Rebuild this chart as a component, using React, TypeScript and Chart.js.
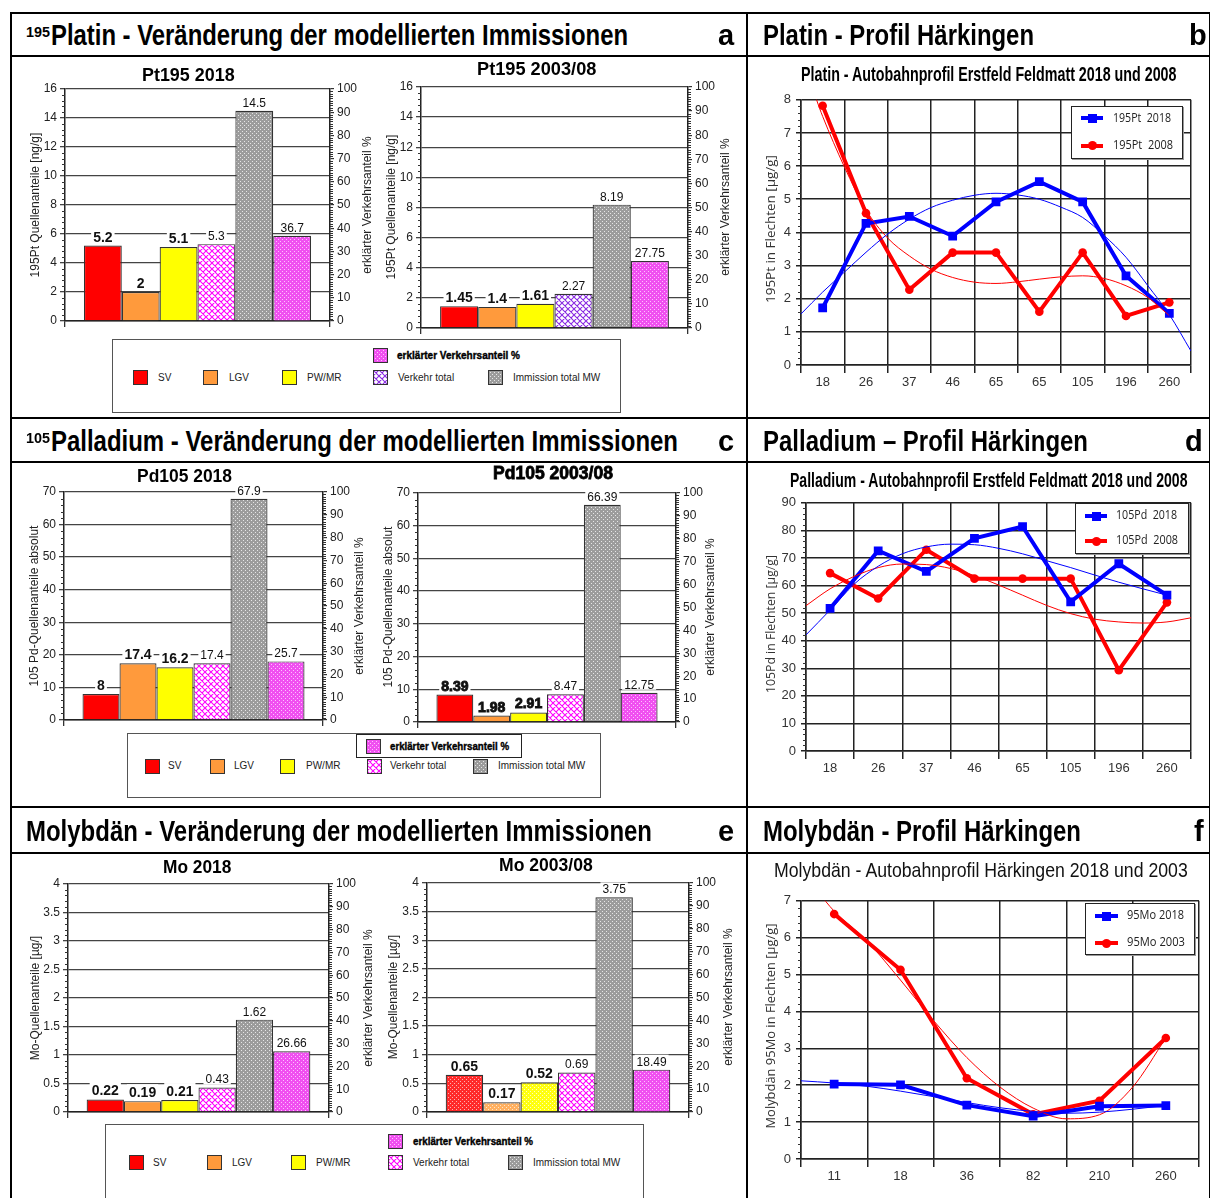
import React, { useEffect, useRef } from 'react';
import { Chart, registerables } from 'chart.js';
Chart.register(...registerables);

// ---------------- data ----------------
const barSeriesNames = ['SV', 'LGV', 'PW/MR', 'Verkehr total', 'Immission total MW', 'erklärter Verkehrsanteil %'];

const pt2018Values = [5.2, 2, 5.1, 5.3, 14.5];
const pt2018Share = 36.7;
const pt0308Values = [1.45, 1.4, 1.61, 2.27, 8.19];
const pt0308Share = 27.75;
const pd2018Values = [8, 17.4, 16.2, 17.4, 67.9];
const pd2018Share = 25.7;
const pd0308Values = [8.39, 1.98, 2.91, 8.47, 66.39];
const pd0308Share = 12.75;
const mo2018Values = [0.22, 0.19, 0.21, 0.43, 1.62];
const mo2018Share = 26.66;
const mo0308Values = [0.65, 0.17, 0.52, 0.69, 3.75];
const mo0308Share = 18.49;

const ptProfileLabels = ['18', '26', '37', '46', '65', '65', '105', '196', '260'];
const pt2018Profile = [1.72, 4.27, 4.48, 3.89, 4.92, 5.53, 4.92, 2.69, 1.56];
const pt2008Profile = [7.82, 4.58, 2.27, 3.39, 3.39, 1.61, 3.39, 1.48, 1.89];
const pt2018Trend = [[0, 1.54], [0.5, 2.2], [1, 2.8], [1.5, 3.4], [2, 3.95], [2.5, 4.4], [3, 4.75], [3.5, 4.97], [4, 5.12], [4.5, 5.18], [5, 5.13], [5.5, 5.0], [6, 4.76], [6.5, 4.45], [7, 3.9], [7.5, 3.25], [8, 2.4], [8.5, 1.52], [9, 0.42]];
const pt2008Trend = [[0.2, 8.7], [0.36, 8.0], [0.5, 7.5], [1, 5.98], [1.5, 4.68], [2, 3.83], [2.5, 3.29], [3, 2.89], [3.5, 2.64], [4, 2.5], [4.5, 2.46], [5, 2.51], [5.5, 2.59], [6, 2.66], [6.5, 2.69], [7, 2.61], [7.5, 2.39], [8, 2.04], [8.5, 1.49]];

const pdProfileLabels = ['18', '26', '37', '46', '65', '105', '196', '260'];
const pd2018Profile = [51.7, 72.6, 65.1, 77.1, 81.4, 54.1, 67.9, 56.5];
const pd2008Profile = [64.5, 55.3, 73.0, 62.5, 62.5, 62.5, 29.3, 53.9];
const pd2018Trend = [[0, 42.1], [0.5, 51.1], [1, 60.5], [1.5, 67], [2, 71.5], [2.5, 74], [3, 75], [3.5, 74.8], [4, 73.5], [4.5, 71.5], [5, 69], [5.5, 66.5], [6, 63.8], [6.5, 61.2], [7, 58.8], [7.5, 56.5]];
const pd2008Trend = [[0, 52.7], [0.5, 58.8], [1, 63.3], [1.5, 66.5], [2, 67.8], [2.5, 67.6], [3, 66.2], [3.5, 63.6], [4, 60.2], [4.5, 56.5], [5, 52.8], [5.5, 49.8], [6, 47.8], [6.5, 46.8], [7, 46.4], [7.5, 46.8], [8, 48.3]];

const moProfileLabels = ['11', '18', '36', '82', '210', '260'];
const mo2018Profile = [2.03, 2.01, 1.46, 1.16, 1.43, 1.45];
const mo2003Profile = [6.64, 5.13, 2.19, 1.21, 1.58, 3.28];
const mo2018Trend = [[0, 2.12], [0.5, 2.06], [1, 1.97], [1.5, 1.84], [2, 1.69], [2.5, 1.53], [3, 1.39], [3.5, 1.29], [4, 1.24], [4.5, 1.27], [5, 1.35], [5.5, 1.45]];
const mo2003Trend = [[0.25, 7.25], [0.5, 6.72], [1, 5.9], [1.5, 4.85], [2, 3.75], [2.5, 2.75], [3, 1.95], [3.5, 1.38], [4, 1.09], [4.5, 1.2], [5, 1.95], [5.5, 3.28]];

// ---------------- helpers ----------------
const SANS = '"Liberation Sans", Arial, sans-serif';
const NARROW = '"Liberation Sans Narrow", "Liberation Sans", Arial, sans-serif';
const HUMAN = '"Open Sans", "Noto Sans", sans-serif';

let measureCtx: any = null;
function textWidth(text: string, font: string) {
  if (!measureCtx) measureCtx = document.createElement('canvas').getContext('2d');
  measureCtx.font = font;
  return measureCtx.measureText(text).width;
}

function FitText(p: any) {
  const weight = p.weight ?? 'normal';
  const font = `${weight} ${p.size}px ${p.family}`;
  const w = textWidth(p.text, font);
  const k = p.width ? p.width / w : 1;
  const asc = p.asc ?? 0.8465;
  const color = p.color ?? '#000';
  return (
    <div style={{ position: 'absolute', left: p.x, top: p.base - asc * p.size, font, lineHeight: p.size + 'px', whiteSpace: 'pre', color, transform: `scaleX(${k})`, transformOrigin: '0 0', WebkitTextStroke: p.stroke ? `${p.stroke}px ${color}` : undefined }}>{p.text}</div>
  );
}

function VText(p: any) {
  const font = `${p.weight ?? 'normal'} ${p.size}px ${p.family}`;
  const w = textWidth(p.text, font);
  const k = p.length ? p.length / w : 1;
  return (
    <div style={{ position: 'absolute', left: p.cx, top: p.cy, width: 0, height: 0 }}>
      <div style={{ position: 'absolute', left: 0, top: 0, font, lineHeight: p.size + 'px', whiteSpace: 'pre', color: p.color ?? '#222', transform: `translate(-50%,-50%) rotate(-90deg) scaleX(${k})` }}>{p.text}</div>
    </div>
  );
}

function makeFill(ctx: any, key: string): any {
  const solid: any = { sv: '#ff0000', lgv: '#ff9a3c', pw: '#ffff00' };
  if (solid[key]) return solid[key];
  const t = document.createElement('canvas');
  const g: any = t.getContext('2d');
  const dots = (n: number, bg: string, dot: string) => {
    t.width = n; t.height = n;
    g.fillStyle = bg; g.fillRect(0, 0, n, n);
    g.fillStyle = dot; g.fillRect(0, 0, 1, 1); g.fillRect(n / 2, n / 2, 1, 1);
  };
  if (key === 'vtMag' || key === 'vtVio') {
    t.width = 6; t.height = 6;
    g.fillStyle = '#fff'; g.fillRect(0, 0, 6, 6);
    g.strokeStyle = key === 'vtMag' ? '#ff00ff' : '#8a2be2';
    g.lineWidth = 1.1;
    g.beginPath();
    for (const k of [-6, 0, 6]) {
      g.moveTo(k - 1, -1); g.lineTo(k + 7, 7);
      g.moveTo(k - 1, 7); g.lineTo(k + 7, -1);
    }
    g.stroke();
  } else if (key === 'imm') dots(4, '#9c9c9c', '#e6e6e6');
  else if (key === 'pct') dots(4, '#f050f0', '#ffc0ff');
  else if (key === 'svDot') dots(4, '#ff2a2a', '#ffb0b0');
  else if (key === 'lgvDot') dots(4, '#ffb060', '#ffe4c8');
  else if (key === 'pwDot') dots(4, '#ffff10', '#ffffc0');
  return ctx.createPattern(t, 'repeat');
}

const minorTicksPlugin = (subs: any) => ({
  id: 'minorTicks',
  afterDraw(chart: any) {
    const ctx = chart.ctx;
    ctx.save();
    ctx.strokeStyle = '#333';
    ctx.lineWidth = 1;
    for (const id of Object.keys(subs)) {
      const s = chart.scales[id];
      if (!s) continue;
      const step = s.options.ticks.stepSize / subs[id];
      const n = Math.round((s.max - s.min) / step);
      const left = s.position === 'left';
      const x0 = left ? s.right : s.left;
      ctx.beginPath();
      for (let k = 0; k <= n; k++) {
        if (k % subs[id] === 0) continue;
        const y = Math.round(s.getPixelForValue(s.min + k * step)) + 0.5;
        ctx.moveTo(x0, y);
        ctx.lineTo(x0 + (left ? -3 : 3), y);
      }
      ctx.stroke();
    }
    ctx.restore();
  },
});

const valueLabelPlugin = (texts: string[], heavy: boolean) => ({
  id: 'valueLabels',
  afterDatasetsDraw(chart: any) {
    const ctx = chart.ctx;
    ctx.save();
    chart.data.datasets.forEach((_ds: any, i: number) => {
      const el = chart.getDatasetMeta(i).data[0];
      const bold = i < 3;
      ctx.font = bold ? `bold 14px ${SANS}` : `12px ${SANS}`;
      const t = texts[i];
      const w = ctx.measureText(t).width;
      const h = bold ? 11 : 9;
      const yb = el.y - 4;
      ctx.fillStyle = '#fff';
      ctx.fillRect(el.x - w / 2 - 2, yb - h - 2, w + 4, h + 3);
      ctx.fillStyle = '#111';
      ctx.textAlign = 'center';
      ctx.textBaseline = 'alphabetic';
      ctx.fillText(t, el.x, yb);
      if (heavy && bold) {
        ctx.lineWidth = 0.9;
        ctx.strokeStyle = '#111';
        ctx.strokeText(t, el.x, yb);
      }
    });
    ctx.restore();
  },
});

const plainNumber = (v: any) => String(+Number(v).toFixed(3));

function BarChart({ cfg }: any) {
  const ref = useRef<HTMLCanvasElement>(null);
  const PL = 45, PR = 45, PT = 12, PB = 14;
  const L = Math.round(cfg.L), T = Math.round(cfg.T);
  const W = Math.round(cfg.R - cfg.L) + PL + PR;
  const H = Math.round(cfg.B - cfg.T) + PT + PB;
  useEffect(() => {
    const canvas = ref.current as HTMLCanvasElement;
    const ctx = canvas.getContext('2d');
    const texts = [...cfg.values.map(String), String(cfg.share)];
    const datasets = barSeriesNames.map((name, i) => ({
      label: name,
      data: [i < 5 ? cfg.values[i] : cfg.share],
      yAxisID: i < 5 ? 'y' : 'y1',
      backgroundColor: makeFill(ctx, cfg.fills[i]),
      borderColor: '#333',
      borderWidth: 1.2,
      barPercentage: 1,
      categoryPercentage: 6 / 7,
    }));
    const tickFont = { family: SANS, size: 12 };
    const chart = new Chart(canvas, {
      type: 'bar',
      data: { labels: [''], datasets },
      options: {
        animation: false,
        responsive: false,
        layout: { padding: { top: PT, left: 0, right: 0, bottom: 0 } },
        plugins: { legend: { display: false }, title: { display: false }, tooltip: { enabled: false } },
        scales: {
          x: {
            type: 'category', offset: true,
            grid: { offset: true, drawOnChartArea: false, color: '#333', lineWidth: 1.3, tickLength: 6 },
            border: { color: '#222', width: 1.5 },
            ticks: { display: false },
            afterFit: (s: any) => { s.height = PB; },
          },
          y: {
            position: 'left', min: 0, max: cfg.yMax,
            ticks: { stepSize: cfg.yStep, font: tickFont, color: '#222', padding: 3, callback: plainNumber },
            grid: { color: '#444', lineWidth: 1.3, tickLength: 5 },
            border: { color: '#222', width: 1.5 },
            afterFit: (s: any) => { s.width = PL; },
          },
          y1: {
            position: 'right', min: 0, max: 100,
            ticks: { stepSize: 10, font: tickFont, color: '#222', padding: 3, callback: plainNumber },
            grid: { drawOnChartArea: false, color: '#333', lineWidth: 1.2, tickLength: 4 },
            border: { color: '#222', width: 1.5 },
            afterFit: (s: any) => { s.width = PR; },
          },
        },
      } as any,
      plugins: [minorTicksPlugin({ y: 5, y1: 10 }), valueLabelPlugin(texts, !!cfg.heavy)],
    });
    return () => chart.destroy();
  }, []);
  return <canvas ref={ref} width={W} height={H} style={{ position: 'absolute', left: L - PL, top: T - PT, width: W, height: H }} />;
}

function LineChart({ cfg }: any) {
  const ref = useRef<HTMLCanvasElement>(null);
  const PL = 45, PR = 10, PT = 10, PB = 30;
  const L = Math.round(cfg.L), T = Math.round(cfg.T);
  const W = Math.round(cfg.R - cfg.L) + PL + PR;
  const H = Math.round(cfg.B - cfg.T) + PT + PB;
  useEffect(() => {
    const canvas = ref.current as HTMLCanvasElement;
    const n = cfg.labels.length;
    const trend = (pts: number[][], color: string) => ({
      type: 'line', xAxisID: 'xt', data: pts.map(([x, y]) => ({ x, y })),
      borderColor: color, borderWidth: 1, pointRadius: 0, cubicInterpolationMode: 'monotone', order: 0,
    });
    const chart = new Chart(canvas, {
      type: 'line',
      data: {
        labels: cfg.labels,
        datasets: [
          trend(cfg.trendA, '#0000ff'),
          trend(cfg.trendB, '#ff0000'),
          { data: cfg.a, xAxisID: 'x', borderColor: '#0000ff', backgroundColor: '#0000ff', borderWidth: 4, pointStyle: 'rect', pointRadius: 6.2, pointBorderWidth: 0, tension: 0, order: 1 },
          { data: cfg.b, xAxisID: 'x', borderColor: '#ff0000', backgroundColor: '#ff0000', borderWidth: 4, pointStyle: 'circle', pointRadius: 4.3, pointBorderWidth: 0, tension: 0, order: 1 },
        ],
      },
      options: {
        animation: false,
        responsive: false,
        layout: { padding: { top: PT, left: 0, right: PR, bottom: 0 } },
        plugins: { legend: { display: false }, title: { display: false }, tooltip: { enabled: false } },
        scales: {
          x: {
            type: 'category', offset: true,
            grid: { offset: true, color: '#222', lineWidth: 1.5, tickLength: 8 },
            border: { color: '#222', width: 1.5 },
            ticks: { font: { family: NARROW, size: 13 }, color: '#333', padding: 2, maxRotation: 0, autoSkip: false },
            afterFit: (s: any) => { s.height = PB; },
          },
          xt: { type: 'linear', min: 0, max: n, display: false },
          y: {
            position: 'left', min: 0, max: cfg.yMax,
            ticks: { stepSize: cfg.yStep, font: { family: NARROW, size: 13 }, color: '#333', padding: 5 },
            grid: { color: '#222', lineWidth: 1.5, tickLength: 5 },
            border: { color: '#222', width: 1.5 },
            afterFit: (s: any) => { s.width = PL; },
          },
        },
      } as any,
      plugins: [minorTicksPlugin({ y: 5 })],
    });
    return () => chart.destroy();
  }, []);
  return <canvas ref={ref} width={W} height={H} style={{ position: 'absolute', left: L - PL, top: T - PT, width: W, height: H }} />;
}

function Swatch({ x, y, fill }: any) {
  const ref = useRef<HTMLCanvasElement>(null);
  useEffect(() => {
    const c = ref.current as HTMLCanvasElement;
    const g: any = c.getContext('2d');
    g.fillStyle = makeFill(g, fill);
    g.fillRect(0, 0, 15, 15);
    g.strokeStyle = '#333';
    g.lineWidth = 1;
    g.strokeRect(0.5, 0.5, 14, 14);
  }, []);
  return <canvas ref={ref} width={15} height={15} style={{ position: 'absolute', left: x, top: Math.round(y - 7.5) }} />;
}

function BarLegend({ box, inner, items }: any) {
  return (
    <>
      <div style={{ position: 'absolute', left: box[0], top: box[1], width: box[2] - box[0], height: box[3] - box[1], border: '1px solid #555', boxSizing: 'border-box', background: '#fff' }} />
      {inner && <div style={{ position: 'absolute', left: inner[0], top: inner[1], width: inner[2] - inner[0], height: inner[3] - inner[1], border: '1px solid #222', boxSizing: 'border-box', background: '#fff' }} />}
      {items.map((it: any, i: number) => (
        <React.Fragment key={i}>
          <Swatch x={it.sx} y={it.sy} fill={it.fill} />
          {it.bold
            ? <FitText text={it.text} x={it.tx} base={it.sy + 4} size={11} family={NARROW} weight="bold" width={it.tw} stroke={0.4} />
            : <FitText text={it.text} x={it.tx} base={it.sy + 3.5} size={10} family={SANS} color="#222" />}
        </React.Fragment>
      ))}
    </>
  );
}

function LineLegend({ box, line, textX, items }: any) {
  return (
    <>
      <div style={{ position: 'absolute', left: box[0], top: box[1], width: box[2] - box[0], height: box[3] - box[1], border: '1.5px solid #222', boxShadow: '1px 1px 0 #999', boxSizing: 'border-box', background: '#fff' }} />
      {items.map((it: any, i: number) => {
        const s = 9;
        return (
          <React.Fragment key={i}>
            <div style={{ position: 'absolute', left: line[0], top: it.y - 2, width: line[1] - line[0], height: 4, background: it.color }} />
            <div style={{ position: 'absolute', left: (line[0] + line[1]) / 2 - s / 2, top: it.y - s / 2, width: s, height: s, background: it.color, borderRadius: it.circle ? '50%' : 0 }} />
            <FitText text={it.text} x={textX} base={it.y + 4} size={12} family={HUMAN} asc={0.888} color="#222" width={it.tw} />
          </React.Fragment>
        );
      })}
    </>
  );
}

const legendFillsRow1 = ['sv', 'lgv', 'pw', 'vtVio', 'imm', 'pct'];
const legendFillsOther = ['sv', 'lgv', 'pw', 'vtMag', 'imm', 'pct'];

function legendItems(fills: string[], xs: number[][], rowY: number, topY: number, pctTw: number) {
  return barSeriesNames.map((name, i) => ({
    fill: fills[i], sx: xs[i][0], tx: xs[i][1], sy: i === 5 ? topY : rowY, text: name, bold: i === 5, tw: i === 5 ? pctTw : undefined,
  }));
}

export default function App() {
  const hLines = [13, 56, 418, 462, 807, 853];
  const vLines = [11, 747, 1210];
  return (
    <div style={{ position: 'absolute', left: 0, top: 0, width: 1210, height: 1198, overflow: 'hidden', background: '#fff', fontFamily: SANS }}>
      {/* bar charts */}
      <BarChart cfg={{ values: pt2018Values, share: pt2018Share, yMax: 16, yStep: 2, fills: legendFillsOther, L: 65, R: 329.5, T: 89, B: 321 }} />
      <BarChart cfg={{ values: pt0308Values, share: pt0308Share, yMax: 16, yStep: 2, fills: legendFillsRow1, L: 421, R: 688.3, T: 87, B: 328 }} />
      <BarChart cfg={{ values: pd2018Values, share: pd2018Share, yMax: 70, yStep: 10, fills: legendFillsOther, L: 64.3, R: 323.3, T: 492, B: 720 }} />
      <BarChart cfg={{ values: pd0308Values, share: pd0308Share, yMax: 70, yStep: 10, fills: legendFillsOther, L: 418.3, R: 676.7, T: 493, B: 722, heavy: true }} />
      <BarChart cfg={{ values: mo2018Values, share: mo2018Share, yMax: 4, yStep: 0.5, fills: legendFillsOther, L: 67.7, R: 328.3, T: 884, B: 1112 }} />
      <BarChart cfg={{ values: mo0308Values, share: mo0308Share, yMax: 4, yStep: 0.5, fills: ['svDot', 'lgvDot', 'pwDot', 'vtMag', 'imm', 'pct'], L: 427.3, R: 689, T: 883, B: 1112 }} />

      {/* line charts */}
      <LineChart cfg={{ labels: ptProfileLabels, a: pt2018Profile, b: pt2008Profile, trendA: pt2018Trend, trendB: pt2008Trend, yMax: 8, yStep: 1, L: 801, R: 1191, T: 97, B: 365 }} />
      <LineChart cfg={{ labels: pdProfileLabels, a: pd2018Profile, b: pd2008Profile, trendA: pd2018Trend, trendB: pd2008Trend, yMax: 90, yStep: 10, L: 806, R: 1191, T: 500, B: 751 }} />
      <LineChart cfg={{ labels: moProfileLabels, a: mo2018Profile, b: mo2003Profile, trendA: mo2018Trend, trendB: mo2003Trend, yMax: 7, yStep: 1, L: 801, R: 1199, T: 898, B: 1159 }} />

      {/* bar chart titles */}
      <FitText text="Pt195 2018" x={141.7} base={81} size={18} family={SANS} weight="bold" width={92.6} />
      <FitText text="Pt195 2003/08" x={477.3} base={75.7} size={18} family={SANS} weight="bold" width={119.4} />
      <FitText text="Pd105 2018" x={137.3} base={482.3} size={18} family={SANS} weight="bold" width={95} />
      <FitText text="Pd105 2003/08" x={492.7} base={479.3} size={18} family={SANS} weight="bold" width={120} stroke={0.8} />
      <FitText text="Mo 2018" x={163.3} base={873.3} size={18} family={SANS} weight="bold" width={68.3} />
      <FitText text="Mo 2003/08" x={499} base={871.7} size={18} family={SANS} weight="bold" width={93.7} />

      {/* bar chart axis titles */}
      <VText text="195Pt Quellenanteile [ng/g]" cx={35} cy={205} size={12} family={SANS} />
      <VText text="erklärter Verkehrsanteil %" cx={367} cy={205} size={12} family={SANS} />
      <VText text="195Pt Quellenanteile [ng/g]" cx={391} cy={207} size={12} family={SANS} />
      <VText text="erklärter Verkehrsanteil %" cx={725} cy={207} size={12} family={SANS} />
      <VText text="105 Pd-Quellenanteile absolut" cx={33.5} cy={606} size={12} family={SANS} />
      <VText text="erklärter Verkehrsanteil %" cx={359} cy={606} size={12} family={SANS} />
      <VText text="105 Pd-Quellenanteile absolut" cx={388} cy={607} size={12} family={SANS} />
      <VText text="erklärter Verkehrsanteil %" cx={710} cy={607} size={12} family={SANS} />
      <VText text="Mo-Quellenanteile [µg/]" cx={34.5} cy={998} size={12} family={SANS} />
      <VText text="erklärter Verkehrsanteil %" cx={367.5} cy={998} size={12} family={SANS} />
      <VText text="Mo-Quellenanteile [µg/]" cx={393} cy={997} size={12} family={SANS} />
      <VText text="erklärter Verkehrsanteil %" cx={727.5} cy={997} size={12} family={SANS} />

      {/* bar legends */}
      <BarLegend box={[112, 339, 621, 413]} items={legendItems(legendFillsRow1, [[133, 158], [203, 229], [282, 307], [373, 398], [488, 513], [373, 397]], 377.5, 355, 123)} />
      <BarLegend box={[127, 733, 601, 798]} inner={[356, 734, 522, 758]} items={legendItems(legendFillsOther, [[145, 168], [210, 234], [280, 306], [367, 390], [473, 498], [366, 390]], 766, 746, 119)} />
      <BarLegend box={[105, 1124, 644, 1215]} items={legendItems(['sv', 'lgv', 'pw', 'vtMag', 'imm', 'pct'], [[129, 153], [207, 232], [291, 316], [388, 413], [508, 533], [388, 413]], 1162.5, 1141.5, 120)} />

      {/* line chart titles */}
      <FitText text="Platin - Autobahnprofil Erstfeld Feldmatt 2018 und 2008" x={800.7} base={81} size={21} family={NARROW} weight="bold" width={376} />
      <FitText text="Palladium - Autobahnprofil Erstfeld Feldmatt 2018 und 2008" x={789.7} base={487} size={21} family={NARROW} weight="bold" width={398} />
      <FitText text="Molybdän - Autobahnprofil Härkingen 2018 und 2003" x={774} base={877} size={21} family={SANS} width={414.7} color="#111" />

      {/* line chart axis titles */}
      <VText text="195Pt in Flechten [µg/g]" cx={769.7} cy={229} size={13} family={HUMAN} length={148} color="#333" />
      <VText text="105Pd in Flechten [µg/g]" cx={769.7} cy={624} size={13} family={HUMAN} length={138} color="#333" />
      <VText text="Molybdän 95Mo in Flechten [µg/g]" cx={769.7} cy={1025.5} size={13} family={HUMAN} length={205} color="#333" />

      {/* line legends */}
      <LineLegend box={[1071, 106, 1183, 159]} line={[1081, 1103]} textX={1113} items={[{ color: '#0000ff', text: '195Pt  2018', y: 118.3, tw: 58 }, { color: '#ff0000', circle: true, text: '195Pt  2008', y: 145.7, tw: 60 }]} />
      <LineLegend box={[1075, 503, 1189, 554]} line={[1085, 1107]} textX={1116} items={[{ color: '#0000ff', text: '105Pd  2018', y: 516, tw: 61 }, { color: '#ff0000', circle: true, text: '105Pd  2008', y: 541, tw: 62 }]} />
      <LineLegend box={[1085, 903, 1195, 955]} line={[1095, 1118]} textX={1127} items={[{ color: '#0000ff', text: '95Mo 2018', y: 916, tw: 57 }, { color: '#ff0000', circle: true, text: '95Mo 2003', y: 943, tw: 58 }]} />

      {/* header texts */}
      <FitText text="195" x={26} base={37} size={15} family={NARROW} weight="bold" width={24} />
      <FitText text="Platin - Veränderung der modellierten Immissionen" x={51} base={45.5} size={29} family={NARROW} weight="bold" width={577} />
      <FitText text="a" x={718} base={45.5} size={29} family={NARROW} weight="bold" />
      <FitText text="Platin - Profil Härkingen" x={763} base={45.5} size={29} family={NARROW} weight="bold" width={271} />
      <FitText text="b" x={1189} base={45.5} size={29} family={NARROW} weight="bold" />
      <FitText text="105" x={26} base={443} size={15} family={NARROW} weight="bold" width={24} />
      <FitText text="Palladium - Veränderung der modellierten Immissionen" x={51} base={451.5} size={29} family={NARROW} weight="bold" width={627} />
      <FitText text="c" x={718} base={451.5} size={29} family={NARROW} weight="bold" />
      <FitText text="Palladium – Profil Härkingen" x={763} base={451.5} size={29} family={NARROW} weight="bold" width={325} />
      <FitText text="d" x={1185} base={451.5} size={29} family={NARROW} weight="bold" />
      <FitText text="Molybdän - Veränderung der modellierten Immissionen" x={26} base={841.5} size={29} family={NARROW} weight="bold" width={626} />
      <FitText text="e" x={718} base={841.5} size={29} family={NARROW} weight="bold" />
      <FitText text="Molybdän - Profil Härkingen" x={763} base={841.5} size={29} family={NARROW} weight="bold" width={318} />
      <FitText text="f" x={1194} base={841.5} size={29} family={NARROW} weight="bold" />

      {/* table lines */}
      {hLines.map((y, i) => <div key={'h' + i} style={{ position: 'absolute', left: 11, top: y - 1, width: 1199, height: 2, background: '#000' }} />)}
      {vLines.map((x, i) => <div key={'v' + i} style={{ position: 'absolute', left: x - 1, top: 12, width: 2, height: 1190, background: '#000' }} />)}
    </div>
  );
}
